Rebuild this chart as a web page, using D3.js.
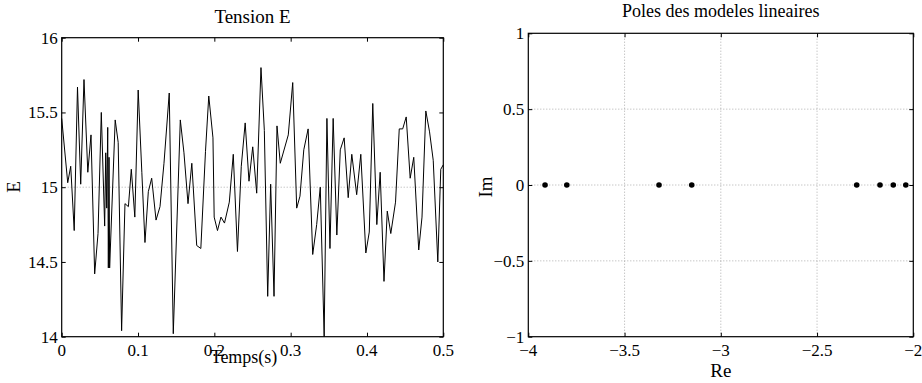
<!DOCTYPE html>
<html><head><meta charset="utf-8">
<script src="https://cdn.jsdelivr.net/npm/d3@7"></script>
<style>
html,body{margin:0;padding:0;background:#fff;}
svg{display:block;}
</style>
</head><body>
<svg id="c" width="922" height="383"></svg>
<script>
// ---- Data: left chart (Tension E) ----
const timeS = [0,0.0079,0.0118,0.0164,0.0207,0.0249,0.0292,0.0342,0.0384,0.0432,0.0476,0.0519,0.0563,0.0577,0.0590,0.0603,0.0611,0.0620,0.0628,0.0701,0.0740,0.0785,0.0829,0.0874,0.0912,0.0958,0.1002,0.1050,0.1091,0.1135,0.1179,0.1236,0.1288,0.1340,0.1409,0.1462,0.1554,0.1602,0.1655,0.1705,0.1769,0.1823,0.1884,0.1927,0.1982,0.1998,0.2041,0.2087,0.2133,0.2196,0.2248,0.2303,0.2353,0.2404,0.2454,0.2503,0.2555,0.2611,0.2655,0.2699,0.2738,0.2782,0.2821,0.2864,0.2969,0.3027,0.3079,0.3122,0.3172,0.3229,0.3289,0.3341,0.3388,0.3439,0.3475,0.3515,0.3557,0.3605,0.3650,0.3701,0.3754,0.3801,0.3865,0.3919,0.3985,0.4030,0.4076,0.4129,0.4173,0.4223,0.4266,0.4312,0.4374,0.4423,0.4468,0.4514,0.4566,0.4613,0.4678,0.4721,0.4771,0.4820,0.4868,0.4928,0.4967,0.5000];
const tensionE = [15.46,15.03,15.14,14.71,15.67,15.02,15.72,15.10,15.35,14.42,14.69,15.50,14.74,15.23,14.86,15.40,14.46,15.20,14.46,15.45,15.30,14.04,14.89,14.87,15.12,14.80,15.65,15.10,14.63,14.97,15.06,14.78,14.87,15.16,15.63,14.02,15.45,15.23,14.89,15.16,14.61,14.59,15.24,15.61,15.33,14.80,14.71,14.80,14.76,14.90,15.22,14.57,15.14,15.43,15.04,15.27,14.96,15.80,15.38,14.27,15.02,14.27,15.41,15.16,15.35,15.70,14.86,14.94,15.25,15.39,14.55,14.75,15.00,14.00,15.46,14.59,15.46,14.68,15.25,15.33,14.93,15.22,14.95,15.22,14.56,14.70,15.56,14.75,15.10,14.37,14.84,14.69,14.90,15.39,15.39,15.47,15.06,15.20,14.58,14.80,15.51,15.37,15.18,14.50,15.12,15.15];
const leftXTicks = [0,0.1,0.2,0.3,0.4,0.5];
const leftYTicks = [14,14.5,15,15.5,16];
const leftRefLevel = 15;
const leftTitle = "Tension E", leftXLabel = "Temps(s)", leftYLabel = "E";

// ---- Data: right chart (poles) ----
const poleRe = [-3.913,-3.800,-3.321,-3.151,-2.294,-2.173,-2.104,-2.039];
const poleIm = [0,0,0,0,0,0,0,0];
const rightXTicks = [-4,-3.5,-3,-2.5,-2];
const rightYTicks = [-1,-0.5,0,0.5,1];
const rightTitle = "Poles des modeles lineaires", rightXLabel = "Re", rightYLabel = "Im";

const svg = d3.select("#c");
const SERIF = "'Liberation Serif', 'Times New Roman', serif";
const fmt = d => d3.format("~g")(d).replace("-", "\u2212");
const FS = 17;

function txt(g, x, y, s, size, anchor, rot) {
  return g.append("text")
    .attr("transform", `translate(${x},${y})` + (rot ? " rotate(-90)" : ""))
    .attr("text-anchor", anchor || "middle")
    .attr("font-family", SERIF).attr("font-size", size)
    .attr("fill", "#000").text(s);
}

function frame(x, y, xt, yt, gridX, gridY) {
  const g = svg.append("g");
  const [x0, x1] = x.range(), [y0, y1] = y.range();
  if (gridX) g.selectAll(".gx").data(xt.slice(1, -1)).join("line")
    .attr("x1", d => x(d)).attr("x2", d => x(d)).attr("y1", y0).attr("y2", y1)
    .attr("stroke", "#9a9a9a").attr("stroke-width", 0.8).attr("stroke-dasharray", "1,2");
  if (gridY) g.selectAll(".gy").data(gridY).join("line")
    .attr("x1", x0).attr("x2", x1).attr("y1", d => y(d)).attr("y2", d => y(d))
    .attr("stroke", "#9a9a9a").attr("stroke-width", 0.8).attr("stroke-dasharray", "1,2");
  const ax = (gen, tr) => {
    const a = g.append("g").attr("transform", tr).call(gen);
    a.select(".domain").remove();
    a.selectAll("text").remove();
    a.selectAll("line").attr("stroke", "#000");
  };
  ax(d3.axisBottom(x).tickValues(xt).tickSize(-4), `translate(0,${y0})`);
  ax(d3.axisTop(x).tickValues(xt).tickSize(-4), `translate(0,${y1})`);
  ax(d3.axisLeft(y).tickValues(yt).tickSize(-4), `translate(${x0},0)`);
  ax(d3.axisRight(y).tickValues(yt).tickSize(-4), `translate(${x1},0)`);
  xt.forEach(d => txt(g, x(d), y0 + 19, fmt(d), FS, "middle"));
  yt.forEach(d => txt(g, x0 - 4, y(d) + 6, fmt(d), FS, "end"));
  g.append("rect").attr("x", x0).attr("y", y1).attr("width", x1 - x0).attr("height", y0 - y1)
    .attr("fill", "none").attr("stroke", "#000").attr("stroke-width", 1.2);
  return g;
}

// ---- Left chart ----
const xL = d3.scaleLinear().domain([0, 0.5]).range([61.7, 443.3]);
const yL = d3.scaleLinear().domain([14, 16]).range([336.7, 37.7]);
const gL = frame(xL, yL, leftXTicks, leftYTicks, false, [leftRefLevel]);
gL.append("path").datum(d3.zip(timeS, tensionE))
  .attr("d", d3.line().x(d => xL(d[0])).y(d => yL(d[1])))
  .attr("fill", "none").attr("stroke", "#000").attr("stroke-width", 1);
txt(gL, 252.5, 23, leftTitle, 19);
txt(gL, 244, 363, leftXLabel, 18);
txt(gL, 20, 187, leftYLabel, 19, "middle", true);

// ---- Right chart ----
const xR = d3.scaleLinear().domain([-4, -2]).range([528.3, 913.3]);
const yR = d3.scaleLinear().domain([-1, 1]).range([336.7, 33.3]);
const gR = frame(xR, yR, rightXTicks, rightYTicks, true, rightYTicks.slice(1, -1));
gR.selectAll("circle").data(d3.zip(poleRe, poleIm)).join("circle")
  .attr("cx", d => xR(d[0])).attr("cy", d => yR(d[1])).attr("r", 2.8).attr("fill", "#000");
txt(gR, 720.8, 17, rightTitle, 18);
txt(gR, 720.8, 377, rightXLabel, 19);
txt(gR, 492, 187, rightYLabel, 19, "middle", true);
</script>
</body></html>
